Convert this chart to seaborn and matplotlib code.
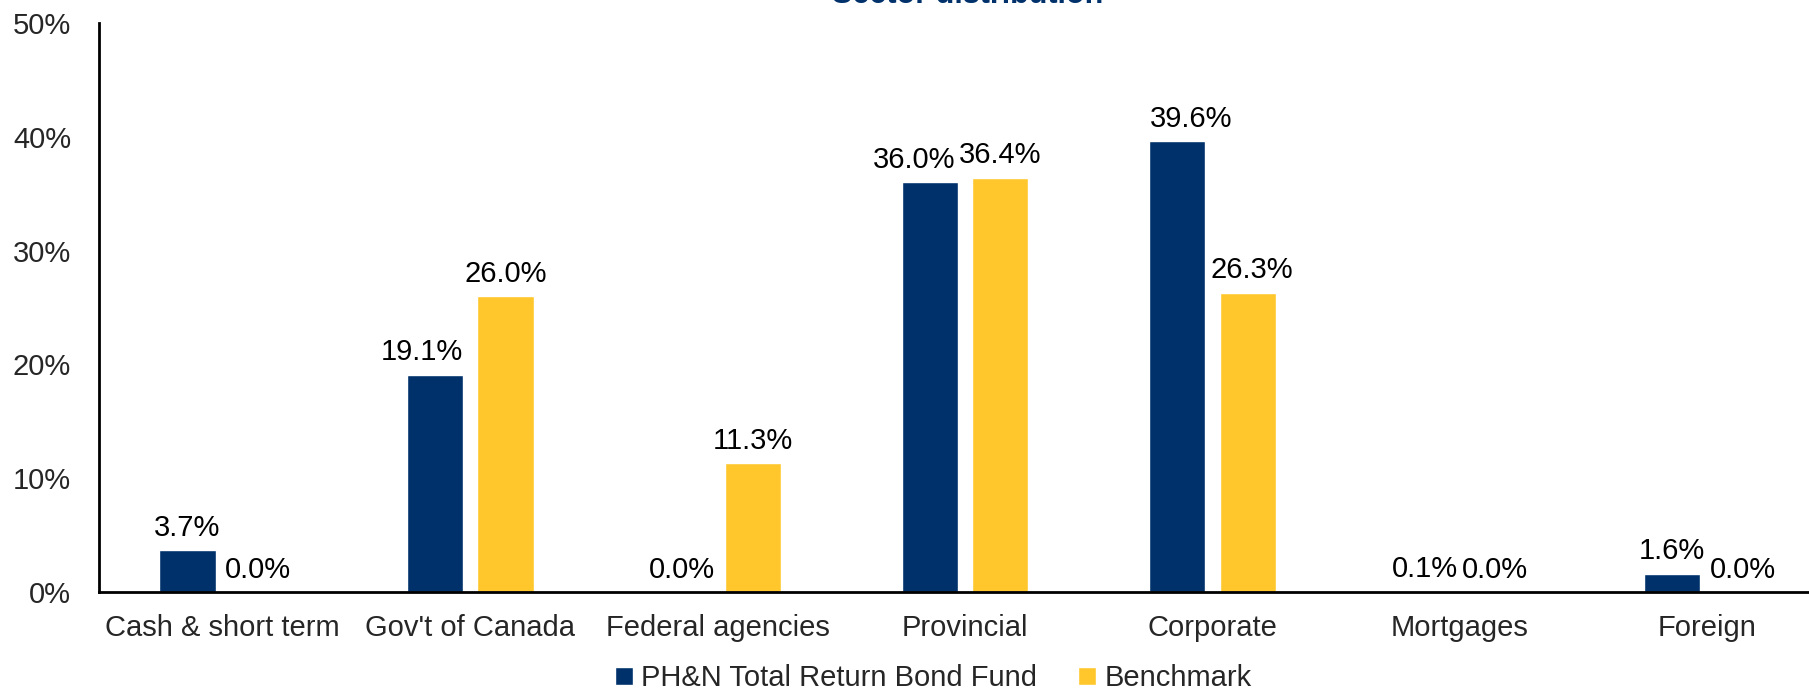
import matplotlib
matplotlib.use("Agg")
import matplotlib.pyplot as plt
from matplotlib.patches import Patch
import pandas as pd
import seaborn as sns

sectors = ["Cash & short term", "Gov't of Canada", "Federal agencies", "Provincial",
           "Corporate", "Mortgages", "Foreign"]
fund = [3.7, 19.1, 0.0, 36.0, 39.6, 0.1, 1.6]
benchmark = [0.0, 26.0, 11.3, 36.4, 26.3, 0.0, 0.0]
series = ["PH&N Total Return Bond Fund", "Benchmark"]
colors = ["#00316B", "#FFC72C"]

# horizontal nudges of the value labels (points), as placed in the original
fund_nudge = [0, -9, 0, -11, 10, 0, 0]
bench_nudge = [0, 0, 0, 0, 3, 0, 0]

sns.set_theme(style="white")
plt.rcParams["font.family"] = ["Liberation Sans", "DejaVu Sans"]

df = pd.DataFrame({
    "sector": sectors * 2,
    "value": fund + benchmark,
    "series": [series[0]] * len(sectors) + [series[1]] * len(sectors),
})

fig = plt.figure(figsize=(18.09, 6.9), dpi=100)
ax = fig.add_axes([0.0547, 0.142, 0.9575, 0.8246])

sns.barplot(data=df, x="sector", y="value", hue="series", palette=colors,
            width=0.57, gap=0.2, saturation=1, ax=ax, legend=False)

for cont, nudges in zip(ax.containers, [fund_nudge, bench_nudge]):
    for bar, v, dx in zip(cont, cont.datavalues, nudges):
        ax.annotate(f"{v:.1f}%", (bar.get_x() + bar.get_width() / 2, bar.get_height()),
                    xytext=(dx, 6), textcoords="offset points",
                    ha="center", va="bottom", fontsize=21, color="black")

ax.set_ylim(0, 50)
ax.set_xlim(-0.5, 6.5)
ax.set_yticks(range(0, 51, 10))
ax.set_yticklabels([f"{t}%" for t in range(0, 51, 10)], fontsize=21)
ax.tick_params(axis="x", labelsize=21, length=0, pad=16)
ax.tick_params(axis="y", length=0, pad=20)
ax.set_xlabel("")
ax.set_ylabel("")
for s in ["top", "right"]:
    ax.spines[s].set_visible(False)
for s in ["left", "bottom"]:
    ax.spines[s].set_color("black")
    ax.spines[s].set_linewidth(2)

handles = [Patch(facecolor=c, label=l) for c, l in zip(colors, series)]
fig.legend(handles=handles, loc="center", bbox_to_anchor=(0.516, 0.017), ncol=2,
           frameon=False, fontsize=21, handlelength=0.6, handleheight=0.6,
           handletextpad=0.3, columnspacing=1.4)

fig.text(0.535, 1 - 3 / 690, "Sector distribution", ha="center", va="baseline",
         fontsize=22, fontweight="bold", color="#00316B")

fig.savefig("out.png", dpi=100)
